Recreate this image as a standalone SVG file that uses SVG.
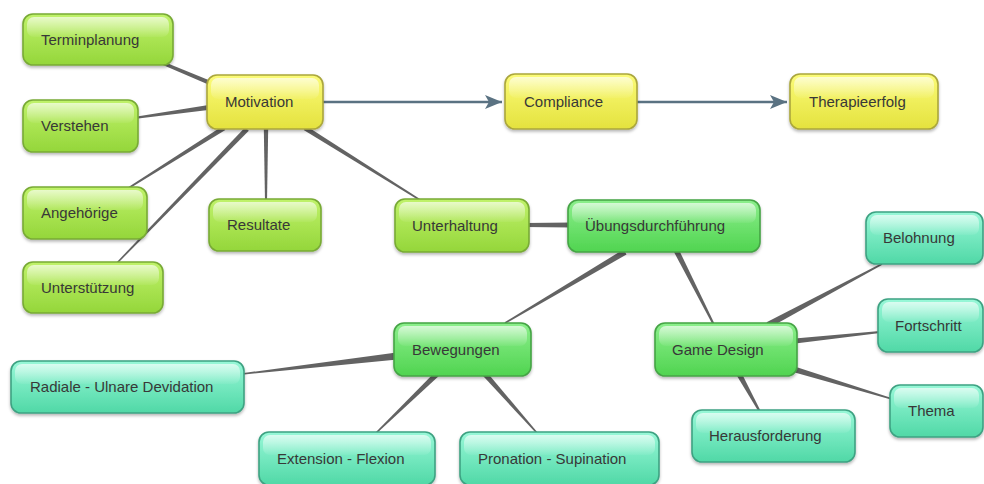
<svg xmlns="http://www.w3.org/2000/svg" width="984" height="484" viewBox="0 0 984 484">
  <defs>
    <linearGradient id="gYellow" x1="0" y1="0" x2="0" y2="1">
      <stop offset="0" stop-color="#fbfb78"/>
      <stop offset="1" stop-color="#e4e23e"/>
    </linearGradient>
    <linearGradient id="gLime" x1="0" y1="0" x2="0" y2="1">
      <stop offset="0" stop-color="#c0f26a"/>
      <stop offset="1" stop-color="#94d63a"/>
    </linearGradient>
    <linearGradient id="gGreen" x1="0" y1="0" x2="0" y2="1">
      <stop offset="0" stop-color="#8cef8c"/>
      <stop offset="1" stop-color="#50d450"/>
    </linearGradient>
    <linearGradient id="gTeal" x1="0" y1="0" x2="0" y2="1">
      <stop offset="0" stop-color="#98f8d8"/>
      <stop offset="1" stop-color="#50d8a6"/>
    </linearGradient>
    <linearGradient id="gGloss" x1="0" y1="0" x2="0" y2="1">
      <stop offset="0" stop-color="#ffffff" stop-opacity="0.65"/>
      <stop offset="1" stop-color="#ffffff" stop-opacity="0.05"/>
    </linearGradient>
    <filter id="shadow" x="-10%" y="-20%" width="120%" height="150%">
      <feDropShadow dx="0" dy="2" stdDeviation="1.6" flood-color="#000" flood-opacity="0.28"/>
    </filter>
    <marker id="arrow" markerUnits="userSpaceOnUse" markerWidth="20" markerHeight="16" refX="17" refY="7" orient="auto">
      <path d="M0,0 L17,7 L0,14 L4,7 Z" fill="#5a7282"/>
    </marker>
  </defs>
  <style>
    .node .body { stroke-width: 1.6; filter: url(#shadow); }
    .node .gloss { fill: url(#gGloss); }
    .node text { font-family: "Liberation Sans", Arial, sans-serif; font-size: 15px; fill: #383838; }
    .yellow .body { fill: url(#gYellow); stroke: #aaa63c; }
    .lime .body { fill: url(#gLime); stroke: #78aa36; }
    .green .body { fill: url(#gGreen); stroke: #45a445; }
    .teal .body { fill: url(#gTeal); stroke: #3ea282; }
    .link { fill: #636363; }
    .flow { stroke: #5a7282; stroke-width: 2.5; fill: none; marker-end: url(#arrow); }
  </style>

  <!-- connectors: tapered links (wide at parent) and directed flow arrows -->
  <g id="connectors">
    <polygon class="link" points="215.87,82.92 160.58,60.62 159.42,63.38 214.13,87.08"/>
    <polygon class="link" points="211.65,104.53 133.86,117.01 134.14,118.99 212.35,109.48"/>
    <polygon class="link" points="222.67,125.88 126.6,188.37 127.4,189.63 225.33,130.12"/>
    <polygon class="link" points="245.2,127.26 115.46,263.48 116.54,264.52 248.8,130.74"/>
    <polygon class="link" points="263.75,125 268.25,125 267,202 265,202"/>
    <polygon class="link" points="303.67,130.12 419.6,200.64 420.4,199.36 306.33,125.88"/>
    <polygon class="link" points="525,223 572,222.5 572,227.5 525,227"/>
    <polygon class="link" points="623.47,249.42 504.62,322.35 505.38,323.65 626.53,254.58"/>
    <polygon class="link" points="673.55,251.24 713.11,325.45 714.89,324.55 678.45,248.76"/>
    <polygon class="link" points="769.42,327.65 882.35,264.66 881.65,263.34 766.58,322.35"/>
    <polygon class="link" points="795.26,343.49 880.1,332.99 879.9,331.01 794.74,338.51"/>
    <polygon class="link" points="792.13,371.87 891.78,399.72 892.22,398.28 793.87,366.13"/>
    <polygon class="link" points="736.59,375.33 759.12,412.48 760.88,411.52 741.41,372.67"/>
    <polygon class="link" points="396.6,352.52 241.91,373.26 242.09,374.74 397.4,359.48"/>
    <polygon class="link" points="436.09,371.03 375.48,432.46 376.52,433.54 439.91,374.97"/>
    <polygon class="link" points="481.94,374.82 536.44,433.5 537.56,432.5 486.06,371.18"/>
    <line class="flow" x1="323" y1="102" x2="502" y2="102"/>
    <line class="flow" x1="637" y1="102" x2="787" y2="102"/>
  </g>

  <g id="node-terminplanung" class="node lime" transform="translate(23,14)">
    <rect class="body" width="150" height="51" rx="10"/>
    <rect class="gloss" x="4" y="3" width="142" height="20" rx="7"/>
    <text x="18" y="31">Terminplanung</text>
  </g>
  <g id="node-verstehen" class="node lime" transform="translate(23,100)">
    <rect class="body" width="115" height="52" rx="10"/>
    <rect class="gloss" x="4" y="3" width="107" height="20" rx="7"/>
    <text x="18" y="31">Verstehen</text>
  </g>
  <g id="node-angehoerige" class="node lime" transform="translate(23,187)">
    <rect class="body" width="124" height="52" rx="10"/>
    <rect class="gloss" x="4" y="3" width="116" height="20" rx="7"/>
    <text x="18" y="31">Angehörige</text>
  </g>
  <g id="node-unterstuetzung" class="node lime" transform="translate(23,262)">
    <rect class="body" width="140" height="51" rx="10"/>
    <rect class="gloss" x="4" y="3" width="132" height="20" rx="7"/>
    <text x="18" y="31">Unterstützung</text>
  </g>
  <g id="node-motivation" class="node yellow" transform="translate(207,75)">
    <rect class="body" width="116" height="54" rx="10"/>
    <rect class="gloss" x="4" y="3" width="108" height="21" rx="7"/>
    <text x="18" y="32">Motivation</text>
  </g>
  <g id="node-resultate" class="node lime" transform="translate(209,199)">
    <rect class="body" width="112" height="52" rx="10"/>
    <rect class="gloss" x="4" y="3" width="104" height="20" rx="7"/>
    <text x="18" y="31">Resultate</text>
  </g>
  <g id="node-unterhaltung" class="node lime" transform="translate(395,199)">
    <rect class="body" width="134" height="53" rx="10"/>
    <rect class="gloss" x="4" y="3" width="126" height="20" rx="7"/>
    <text x="17" y="32">Unterhaltung</text>
  </g>
  <g id="node-compliance" class="node yellow" transform="translate(505,74)">
    <rect class="body" width="132" height="55" rx="10"/>
    <rect class="gloss" x="4" y="3" width="124" height="21" rx="7"/>
    <text x="19" y="33">Compliance</text>
  </g>
  <g id="node-therapieerfolg" class="node yellow" transform="translate(790,74)">
    <rect class="body" width="148" height="55" rx="10"/>
    <rect class="gloss" x="4" y="3" width="140" height="21" rx="7"/>
    <text x="19" y="33">Therapieerfolg</text>
  </g>
  <g id="node-uebungsdurchfuehrung" class="node green" transform="translate(568,200)">
    <rect class="body" width="192" height="52" rx="10"/>
    <rect class="gloss" x="4" y="3" width="184" height="20" rx="7"/>
    <text x="17" y="31">Übungsdurchführung</text>
  </g>
  <g id="node-bewegungen" class="node green" transform="translate(394,323)">
    <rect class="body" width="137" height="53" rx="10"/>
    <rect class="gloss" x="4" y="3" width="129" height="20" rx="7"/>
    <text x="18" y="32">Bewegungen</text>
  </g>
  <g id="node-game-design" class="node green" transform="translate(655,323)">
    <rect class="body" width="142" height="53" rx="10"/>
    <rect class="gloss" x="4" y="3" width="134" height="20" rx="7"/>
    <text x="17" y="32">Game Design</text>
  </g>
  <g id="node-radiale" class="node teal" transform="translate(11,361)">
    <rect class="body" width="233" height="52" rx="10"/>
    <rect class="gloss" x="4" y="3" width="225" height="20" rx="7"/>
    <text x="19" y="31">Radiale - Ulnare Devidation</text>
  </g>
  <g id="node-extension" class="node teal" transform="translate(259,432)">
    <rect class="body" width="176" height="53" rx="10"/>
    <rect class="gloss" x="4" y="3" width="168" height="20" rx="7"/>
    <text x="18" y="32">Extension - Flexion</text>
  </g>
  <g id="node-pronation" class="node teal" transform="translate(460,432)">
    <rect class="body" width="199" height="53" rx="10"/>
    <rect class="gloss" x="4" y="3" width="191" height="20" rx="7"/>
    <text x="18" y="32">Pronation - Supination</text>
  </g>
  <g id="node-herausforderung" class="node teal" transform="translate(692,410)">
    <rect class="body" width="163" height="52" rx="10"/>
    <rect class="gloss" x="4" y="3" width="155" height="20" rx="7"/>
    <text x="17" y="31">Herausforderung</text>
  </g>
  <g id="node-belohnung" class="node teal" transform="translate(866,212)">
    <rect class="body" width="117" height="52" rx="10"/>
    <rect class="gloss" x="4" y="3" width="109" height="20" rx="7"/>
    <text x="17" y="31">Belohnung</text>
  </g>
  <g id="node-fortschritt" class="node teal" transform="translate(878,299)">
    <rect class="body" width="105" height="53" rx="10"/>
    <rect class="gloss" x="4" y="3" width="97" height="20" rx="7"/>
    <text x="17" y="32">Fortschritt</text>
  </g>
  <g id="node-thema" class="node teal" transform="translate(890,385)">
    <rect class="body" width="93" height="52" rx="10"/>
    <rect class="gloss" x="4" y="3" width="85" height="20" rx="7"/>
    <text x="18" y="31">Thema</text>
  </g>
</svg>
